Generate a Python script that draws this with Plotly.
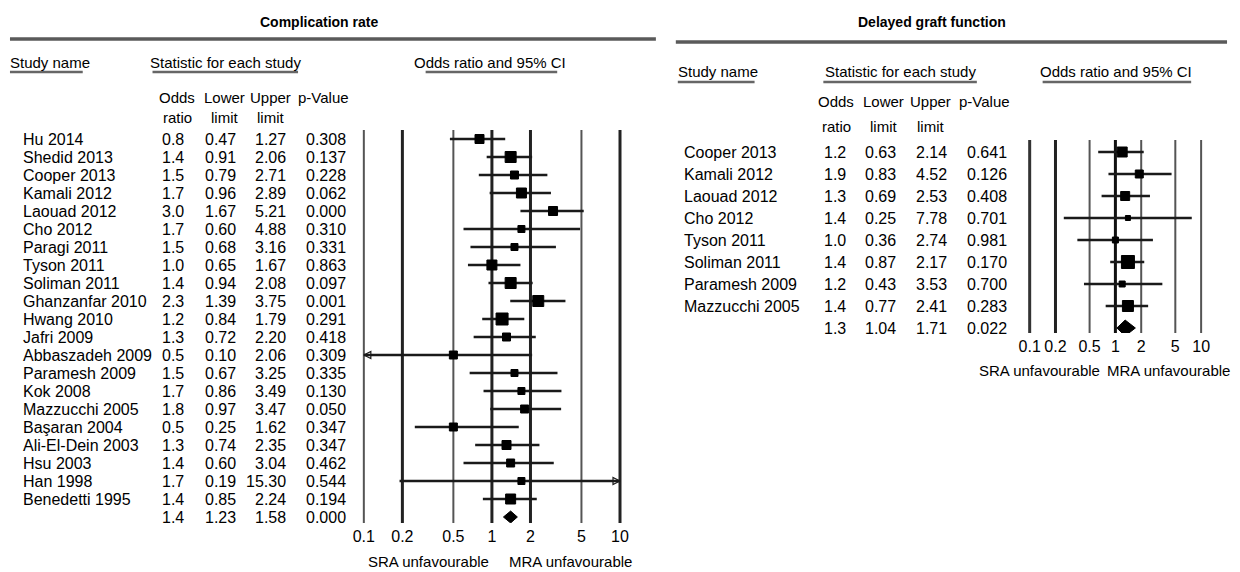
import math
import plotly.graph_objects as go

W, H = 1240, 572
FONT = "Liberation Sans, Arial, sans-serif"
FS = 16      # table cells / tick labels
FH = 15      # headers / captions

# ---------------- data: Complication rate ----------------
cr_names = ["Hu 2014", "Shedid 2013", "Cooper 2013", "Kamali 2012", "Laouad 2012", "Cho 2012",
            "Paragi 2011", "Tyson 2011", "Soliman 2011", "Ghanzanfar 2010", "Hwang 2010",
            "Jafri 2009", "Abbaszadeh 2009", "Paramesh 2009", "Kok 2008", "Mazzucchi 2005",
            "Başaran 2004", "Ali-El-Dein 2003", "Hsu 2003", "Han 1998", "Benedetti 1995"]
cr_or = [0.8, 1.4, 1.5, 1.7, 3.0, 1.7, 1.5, 1.0, 1.4, 2.3, 1.2, 1.3, 0.5, 1.5, 1.7, 1.8, 0.5, 1.3, 1.4, 1.7, 1.4]
cr_lo = [0.47, 0.91, 0.79, 0.96, 1.67, 0.60, 0.68, 0.65, 0.94, 1.39, 0.84, 0.72, 0.10, 0.67, 0.86, 0.97, 0.25, 0.74, 0.60, 0.19, 0.85]
cr_hi = [1.27, 2.06, 2.71, 2.89, 5.21, 4.88, 3.16, 1.67, 2.08, 3.75, 1.79, 2.20, 2.06, 3.25, 3.49, 3.47, 1.62, 2.35, 3.04, 15.30, 2.24]
cr_p = [0.308, 0.137, 0.228, 0.062, 0.000, 0.310, 0.331, 0.863, 0.097, 0.001, 0.291, 0.418, 0.309, 0.335, 0.130, 0.050, 0.347, 0.347, 0.462, 0.544, 0.194]
cr_wt = [10, 12, 9, 11, 10, 8, 8, 11, 12, 12, 13, 9, 9, 8, 8, 9, 9, 10, 9, 8, 11]
cr_sum = [1.4, 1.23, 1.58, 0.000]

# ---------------- data: Delayed graft function ----------------
dg_names = ["Cooper 2013", "Kamali 2012", "Laouad 2012", "Cho 2012", "Tyson 2011",
            "Soliman 2011", "Paramesh 2009", "Mazzucchi 2005"]
dg_or = [1.2, 1.9, 1.3, 1.4, 1.0, 1.4, 1.2, 1.4]
dg_lo = [0.63, 0.83, 0.69, 0.25, 0.36, 0.87, 0.43, 0.77]
dg_hi = [2.14, 4.52, 2.53, 7.78, 2.74, 2.17, 3.53, 2.41]
dg_p = [0.641, 0.126, 0.408, 0.701, 0.981, 0.170, 0.700, 0.283]
dg_wt = [11, 9, 10, 6, 7, 14, 7, 12]
dg_sum = [1.3, 1.04, 1.71, 0.022]

tick_vals = [0.1, 0.2, 0.5, 1, 2, 5, 10]
tick_text = ["0.1", "0.2", "0.5", "1", "2", "5", "10"]

# styles of reference lines (per tick)
cr_grid_w = [2, 3, 2, 3, 3, 2, 3]
cr_grid_c = ["#555", "#222", "#555", "#222", "#222", "#555", "#222"]
dg_grid_w = [3, 3, 2, 3, 2, 2, 2]
dg_grid_c = ["#333", "#222", "#555", "#111", "#555", "#555", "#555"]

fig = go.Figure()
annotations = []
shapes = []


def px_y(py):
    return 1 - py / H


def add_panel(names, ors, los, his, ps, wts, summ, xa, ya, yrange, grid_w, grid_c,
              col_x, name_x, diamond_h):
    n = len(names)
    xmin, xmax = tick_vals[0], tick_vals[-1]
    # reference lines
    for t, w, c in zip(tick_vals, grid_w, grid_c):
        fig.add_trace(go.Scatter(x=[t, t], y=[yrange[1], yrange[0]], mode="lines",
                                 line=dict(color=c, width=w), xaxis=xa, yaxis=ya,
                                 hoverinfo="skip", showlegend=False))
    # CI lines
    lx, ly = [], []
    la_x, la_y, ra_x, ra_y = [], [], [], []
    for i in range(n):
        lo = max(los[i], xmin)
        hi = min(his[i], xmax)
        lx += [lo, hi, None]
        ly += [i, i, None]
        if los[i] <= xmin:
            la_x.append(xmin); la_y.append(i)
        if his[i] > xmax:
            ra_x.append(xmax); ra_y.append(i)
    fig.add_trace(go.Scatter(x=lx, y=ly, mode="lines", line=dict(color="#1a1a1a", width=2.4),
                             xaxis=xa, yaxis=ya, hoverinfo="skip", showlegend=False))
    if la_x:
        fig.add_trace(go.Scatter(x=la_x, y=la_y, mode="markers", cliponaxis=False,
                                 marker=dict(symbol="arrow-left-open", size=7, color="#1a1a1a",
                                             line=dict(width=1.2, color="#1a1a1a")),
                                 xaxis=xa, yaxis=ya, hoverinfo="skip", showlegend=False))
    if ra_x:
        fig.add_trace(go.Scatter(x=ra_x, y=ra_y, mode="markers", cliponaxis=False,
                                 marker=dict(symbol="arrow-right-open", size=7, color="#1a1a1a",
                                             line=dict(width=1.2, color="#1a1a1a")),
                                 xaxis=xa, yaxis=ya, hoverinfo="skip", showlegend=False))
    # study squares
    fig.add_trace(go.Scatter(x=ors, y=list(range(n)), mode="markers", cliponaxis=False,
                             marker=dict(symbol="square", size=[w - 1 for w in wts],
                                         color="#000000", opacity=1,
                                         line=dict(width=1, color="#000000")),
                             xaxis=xa, yaxis=ya, showlegend=False))
    # summary diamond
    s_or, s_lo, s_hi, s_p = summ
    fig.add_trace(go.Scatter(x=[s_lo, s_or, s_hi, s_or, s_lo],
                             y=[n, n - diamond_h, n, n + diamond_h, n],
                             mode="lines", fill="toself", fillcolor="#000000",
                             line=dict(color="#000000", width=1),
                             xaxis=xa, yaxis=ya, showlegend=False))
    # table text
    for i in range(n + 1):
        if i < n:
            annotations.append(dict(x=name_x / W, y=i, xref="paper", yref=ya, text=names[i],
                                    xanchor="left", yanchor="middle", showarrow=False,
                                    font=dict(size=FS, family=FONT, color="#000")))
            vals = [f"{ors[i]:.1f}", f"{los[i]:.2f}", f"{his[i]:.2f}", f"{ps[i]:.3f}"]
        else:
            vals = [f"{s_or:.1f}", f"{s_lo:.2f}", f"{s_hi:.2f}", f"{s_p:.3f}"]
        for cx, v in zip(col_x, vals):
            annotations.append(dict(x=cx / W, y=i, xref="paper", yref=ya, text=v,
                                    xanchor="right", yanchor="middle", showarrow=False,
                                    font=dict(size=FS, family=FONT, color="#000")))


# left panel geometry (pixels)
cr_top, cr_bot, cr_row0, cr_step = 130, 523, 139, 18
cr_yr = [(cr_bot - cr_row0) / cr_step, (cr_top - cr_row0) / cr_step]
add_panel(cr_names, cr_or, cr_lo, cr_hi, cr_p, cr_wt, cr_sum, "x", "y", cr_yr,
          cr_grid_w, cr_grid_c, [184, 236, 286, 346], 18, 0.33)

dg_top, dg_bot, dg_row0, dg_step = 140, 333, 152, 22
dg_yr = [(dg_bot - dg_row0) / dg_step, (dg_top - dg_row0) / dg_step]
add_panel(dg_names, dg_or, dg_lo, dg_hi, dg_p, dg_wt, dg_sum, "x2", "y2", dg_yr,
          dg_grid_w, dg_grid_c, [848, 898, 949, 1009], 681, 0.36)


def txt(x, y, s, size=FH, bold=False, anchor="center"):
    annotations.append(dict(x=x / W, y=px_y(y), xref="paper", yref="paper",
                            text=f"<b>{s}</b>" if bold else s, xanchor=anchor,
                            yanchor="middle", showarrow=False,
                            font=dict(size=size, family=FONT, color="#000")))


def hline(x0, x1, y, w=3, c="#5a5a5a"):
    shapes.append(dict(type="line", xref="paper", yref="paper", x0=x0 / W, x1=x1 / W,
                       y0=px_y(y), y1=px_y(y), line=dict(color=c, width=w)))


# titles and rules
txt(317, 22, "Complication rate", size=14, bold=True)
txt(932, 22, "Delayed graft function", size=14, bold=True)
hline(7, 655, 39, 3.5)
hline(675, 1228, 42, 3.5)

# left headers
txt(5, 63, "Study name", anchor="left")
hline(7, 80, 72, 2.5, "#666")
txt(223, 63, "Statistic for each study")
hline(150, 296, 72, 2.5, "#666")
txt(489, 63, "Odds ratio and 95% CI")
hline(424, 556, 72, 2.5, "#666")
for cx, (a, b) in zip([175, 222, 268, 322], [("Odds", "ratio"), ("Lower", "limit"),
                                              ("Upper", "limit"), ("p-Value", "")]):
    txt(cx, 97, a)
    if b:
        txt(cx, 117, b)

# right headers
txt(675, 72, "Study name", anchor="left")
hline(677, 754, 82, 2.5, "#666")
txt(900, 72, "Statistic for each study")
hline(823, 977, 82, 2.5, "#666")
txt(1117, 72, "Odds ratio and 95% CI")
hline(1043, 1192, 82, 2.5, "#666")
for cx, (a, b) in zip([836, 883, 931, 985], [("Odds", "ratio"), ("Lower", "limit"),
                                              ("Upper", "limit"), ("p-Value", "")]):
    txt(cx, 101, a)
    if b:
        txt(cx, 126, b)

# bottom captions
txt(427, 561, "SRA unfavourable")
txt(569, 561, "MRA unfavourable")
txt(1040, 370, "SRA unfavourable")
txt(1169, 370, "MRA unfavourable")

lr = 10 / 128.5
rr = 8 / 86
axis_common = dict(type="log", tickvals=tick_vals, ticktext=tick_text, showgrid=False,
                   zeroline=False, showline=False, ticks="", ticklabelstandoff=2,
                   tickfont=dict(size=FS, family=FONT, color="#000"), fixedrange=True)
fig.update_layout(
    width=W, height=H, margin=dict(l=0, r=0, t=0, b=0),
    paper_bgcolor="white", plot_bgcolor="white", showlegend=False,
    xaxis=dict(domain=[352 / W, 629 / W], range=[-1 - lr, 1 + lr], anchor="y", **axis_common),
    yaxis=dict(domain=[px_y(cr_bot), px_y(cr_top)], range=cr_yr, visible=False, fixedrange=True),
    xaxis2=dict(domain=[1022 / W, 1210 / W], range=[-1 - rr, 1 + rr], anchor="y2", **axis_common),
    yaxis2=dict(domain=[px_y(dg_bot), px_y(dg_top)], range=dg_yr, visible=False, fixedrange=True),
    annotations=annotations, shapes=shapes,
)

fig.write_html("out.html", config={"displayModeBar": False},
               post_script="document.body.style.margin='0';document.body.style.overflow='hidden';")
